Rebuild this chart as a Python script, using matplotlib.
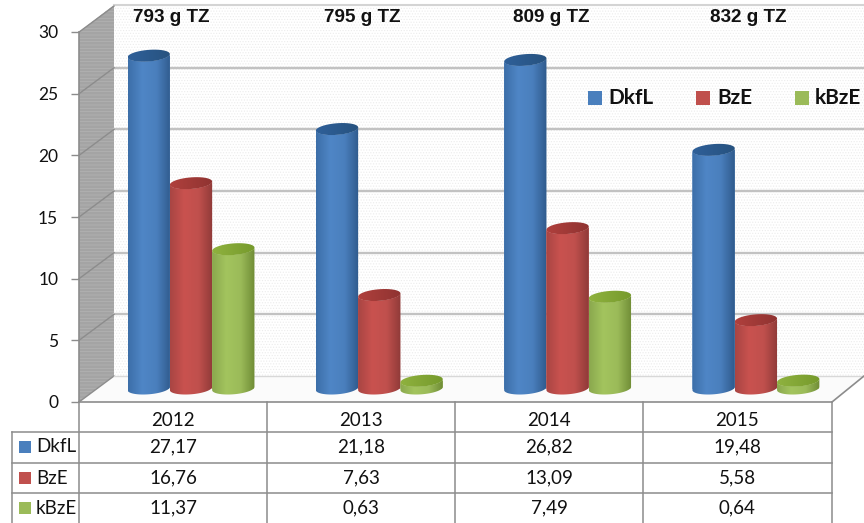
#!/usr/bin/env python3
import numpy as np
import matplotlib
matplotlib.use('Agg')
import matplotlib.pyplot as plt
from matplotlib.colors import LinearSegmentedColormap
from matplotlib.patches import Polygon, Rectangle

years = ['2012', '2013', '2014', '2015']
titles = ['793 g TZ', '795 g TZ', '809 g TZ', '832 g TZ']
series = ['DkfL', 'BzE', 'kBzE']
dkfl = [27.17, 21.18, 26.82, 19.48]
bze = [16.76, 7.63, 13.09, 5.58]
kbze = [11.37, 0.63, 7.49, 0.64]
yticks = [0, 5, 10, 15, 20, 25, 30]

W, H = 864, 523
SCALE = 12.33  # px per unit on the walls
BAR_SCALE = 12.25  # px per unit for the cylinders
GROUP = 188.3  # px per category
BAR = 42.3
RY = 5.8
TILT = 1.6

plt.rcParams['font.family'] = ['Lato', 'DejaVu Sans']
GRID = '#c2c2c2'
LINE = '#8c8c8c'
fills = {
    'DkfL': ['#3c6ea8', '#4f86c6', '#4a7fbd', '#2f5a8c'],
    'BzE': ['#a84543', '#c9524f', '#c0504d', '#8f3a38'],
    'kBzE': ['#8aa84e', '#a3c45e', '#9bbb59', '#6f8c35'],
}
tops = {
    'DkfL': ['#2f6099', '#27527f'],
    'BzE': ['#b0403d', '#8f3331'],
    'kBzE': ['#8fb23f', '#769a2c'],
}

fig = plt.figure(figsize=(W / 100, H / 100), dpi=100, facecolor='white')

# pixel layer: walls, floor and table frame
bg = fig.add_axes([0, 0, 1, 1])
bg.set_xlim(0, W)
bg.set_ylim(H, 0)
bg.axis('off')

plt.rcParams['hatch.linewidth'] = 0.5
bg.add_patch(Rectangle((114, 5), W - 114, 371, fc='white', ec='#ececec', hatch='......', lw=0))
bg.add_patch(Polygon([(79, 32), (114, 5), (114, 376), (79, 402)], fc='#a4a4a4', ec='#b4b4b4',
                     hatch='-----', lw=0))
bg.add_patch(Polygon([(79, 402), (114, 376), (W, 376), (832, 402)], fc='#fbfbfb', ec='none'))
bg.plot([114, W], [5, 5], color='#d4d4d4', lw=1.5)
for tick in yticks:
    back = 376 - tick * SCALE
    front = 402 - tick * SCALE
    if tick not in (0, 30):
        bg.plot([114, W], [back, back], color=GRID, lw=1.7)
    bg.plot([79, 114], [front, back], color=LINE, lw=1)
bg.plot([114, W], [376, 376], color='#d8d8d8', lw=1)
bg.plot([832, 864], [402, 376], color=LINE, lw=1.2)

# value axis, front edge of the chart
ay = fig.add_axes([79 / W, (H - 402) / H, (832 - 79) / W, 370 / H])
ay.patch.set_alpha(0)
ay.set_ylim(0, 30)
ay.set_xticks([])
ay.set_yticks(yticks)
ay.tick_params(axis='y', length=6, width=1, color=LINE, labelsize=12.5, pad=9, labelcolor='#111111')
for s in ['top', 'right']:
    ay.spines[s].set_visible(False)
for s in ['left', 'bottom']:
    ay.spines[s].set_color(LINE)
    ay.spines[s].set_linewidth(1.2)

# bars: x in category units, y in chart units
ax = fig.add_axes([0, 0, 1, 1])
ax.patch.set_alpha(0)
ax.axis('off')
BASE = 388.5
X0 = 191.0


def ellipse_pts(xc, v, half=False):
    t = np.linspace(0, np.pi, 40) if half else np.linspace(0, 2 * np.pi, 80)
    px = BAR / 2 * np.cos(t)
    py = RY * np.sin(t) - TILT * np.cos(t)
    return np.column_stack([xc + px / GROUP, v - py / BAR_SCALE])


def gradient(cols, x0, x1, y0, y1, clip, z):
    grad = np.linspace(0, 1, 256).reshape(1, -1)
    cmap = LinearSegmentedColormap.from_list('c', cols)
    im = ax.imshow(grad, cmap=cmap, extent=[x0, x1, y0, y1], aspect='auto',
                   zorder=z, interpolation='bilinear')
    im.set_clip_path(clip)


z = 3
for j, (name, vals) in enumerate(zip(series, [dkfl, bze, kbze])):
    for i, v in enumerate(vals):
        xc = i + (j - 1) * BAR / GROUP
        hw = BAR / 2 / GROUP
        outline = np.vstack([ellipse_pts(xc, 0, half=True), ellipse_pts(xc, v, half=True)[::-1]])
        clip = Polygon(outline, transform=ax.transData, fc='none', ec='none')
        ax.add_patch(clip)
        rect = ax.bar(xc, v, width=BAR / GROUP, color=fills[name][1], zorder=z, lw=0)[0]
        rect.set_clip_path(clip)
        gradient(fills[name], xc - hw, xc + hw, -1.2, v + 1, clip, z + 0.1)
        cap = Polygon(ellipse_pts(xc, v), transform=ax.transData, fc='none', ec='none')
        ax.add_patch(cap)
        gradient(tops[name], xc - hw, xc + hw, v - 1, v + 1, cap, z + 0.2)
        z += 1

ax.set_xlim(-X0 / GROUP, (W - X0) / GROUP)
ax.set_ylim((BASE - H) / BAR_SCALE, BASE / BAR_SCALE)

# table and annotations in pixels
top = fig.add_axes([0, 0, 1, 1])
top.patch.set_alpha(0)
top.set_xlim(0, W)
top.set_ylim(H, 0)
top.axis('off')

for x in [79, 267, 455, 643, 832]:
    top.plot([x, x], [402, H], color=LINE, lw=1.1)
top.plot([12, 12], [432, H], color=LINE, lw=1.1)
for y in [432, 463, 493]:
    top.plot([12, 832], [y, y], color=LINE, lw=1.1)

centers = [173, 361, 549, 737]
rows = [447, 478, 508]
for i, yr in enumerate(years):
    top.text(centers[i], 420, yr, ha='center', va='center', fontsize=13.5, color='#111111')
for r, (name, vals) in enumerate(zip(series, [dkfl, bze, kbze])):
    top.add_patch(Rectangle((19, rows[r] - 6), 12, 12, fc=fills[name][2], ec='none'))
    top.text(36, rows[r], name, ha='left', va='center', fontsize=13.5, color='#111111')
    for i, v in enumerate(vals):
        top.text(centers[i], rows[r], f'{v:.2f}'.replace('.', ','), ha='center', va='center',
                 fontsize=13.5, color='#111111')

for x, t in zip([171, 362, 551, 748], titles):
    top.text(x, 17, t, ha='center', va='center', fontsize=13.6, fontweight='bold',
             family='Liberation Sans', color='#111111')

for name, xs, xt in zip(series, [588, 696, 795], [608, 717, 815]):
    top.add_patch(Rectangle((xs, 91), 14, 14, fc=fills[name][2], ec='none'))
    top.text(xt, 98, name, ha='left', va='center', fontsize=15, fontweight='bold', color='#111111')

fig.savefig('out.png', dpi=100)
plt.close(fig)
